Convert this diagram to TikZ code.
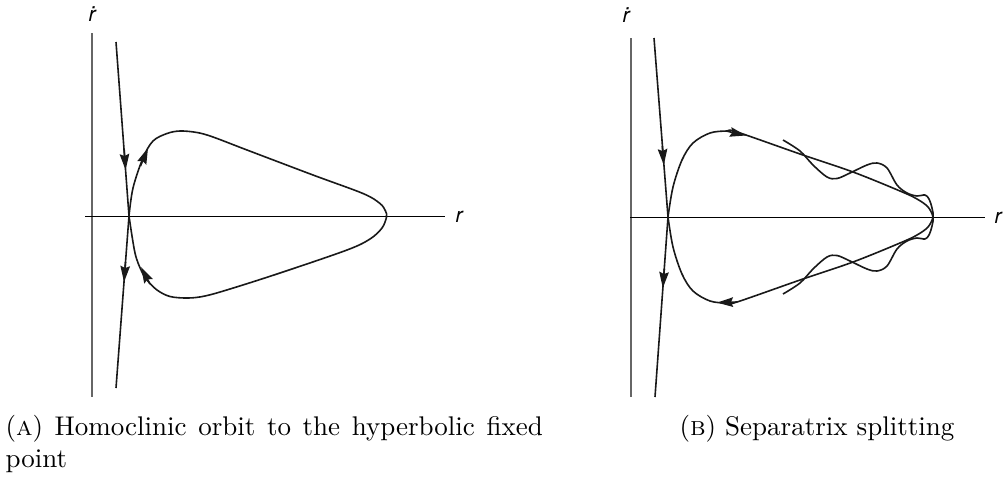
\documentclass[tikz,border=0pt]{standalone}
\usepackage{fontspec}
\newfontfamily\labfont{TeX Gyre Heros}
\usetikzlibrary{arrows.meta}
\begin{document}
\begin{tikzpicture}[x=1pt,y=-1pt,
  curve/.style={line width=1.6pt, black!90, line join=round},
  haxis/.style={line width=1pt, black},
  vaxis/.style={line width=1.4pt, black!60},
  arr/.style={line width=1.6pt, black!90, -{Stealth[length=16pt,width=9.5pt,inset=2pt]}},
  lab/.style={font=\labfont\itshape\fontsize{21}{21}\selectfont, inner sep=0pt},
  captext/.style={scale=2.7, inner sep=0pt, anchor=base west}]
\useasboundingbox (0,0) rectangle (1006,480);
% ---------- Panel A ----------
\draw[vaxis] (92,33) -- (92,397);
\draw[haxis] (85,216) -- (445,216);
\node[lab] (rdA) at (92,14) {ṙ};
\node[lab] (rA) at (459,217) {r};
\draw[curve] (116,42) -- (129,216) -- (116,388);
\draw[curve] plot[smooth, tension=0.55] coordinates {
  (129,216) (133,188) (143,158) (153,141) (167,133.5) (180,131) (197,132.5)
  (213,137) (247,150) (313,175) (363,193.5) (380,203.5) (385.5,211) (386.5,217)
  (382,228) (370,239) (347,250) (280,273) (230,289) (205,296) (188,298) (170,296.5)
  (157,290) (147,280) (141.5,271) (135,253) (129,216)};
\draw[arr] (124.2,150) -- (125.6,170);
\draw[arr] (125.5,262) -- (124,282);
\draw[arr] (140.5,166) -- (148,148);
\draw[arr] (150,284) -- (141,267);
% ---------- Panel B ----------
\draw[vaxis] (631,38) -- (631,397);
\draw[haxis] (630,217) -- (985,217);
\node[lab] (rdB) at (626,15) {ṙ};
\node[lab] (rB) at (998,218) {r};
\draw[curve] (654,38) -- (668,217) -- (655,397);
% unstable branch: smooth on top, wiggly below
\draw[curve] plot[smooth, tension=0.55] coordinates {
  (668,217) (673,187) (682,160) (693,143) (710,133) (727,131) (737,132)
  (800,154) (853,172) (900,191) (917,199) (928,207) (933,217)
  (932,226) (929,235) (925,239) (917,238) (907,241) (897,249) (887,266)
  (877,271) (867,269) (850,261) (837,255.5) (827,257) (813,269) (800,283) (783,294)};
% stable branch: wiggly on top, smooth below
\draw[curve] plot[smooth, tension=0.55] coordinates {
  (783,140) (800,151) (813,165) (827,177) (837,178.5) (850,173) (867,165)
  (877,163) (887,168) (897,185) (907,193) (917,196) (925,195) (929,199)
  (932,208) (933,217)
  (928,227) (917,235) (900,243) (853,262) (800,280) (737,302) (727,303)
  (710,301) (693,291) (682,274) (673,247) (668,217)};
\draw[arr] (662.3,146) -- (663.8,165);
\draw[arr] (664.3,269) -- (662.8,288);
\draw[arr] (727,131.2) -- (746,135.5);
\draw[arr] (737,302) -- (717,302.6);
% ---------- Captions ----------
\node[captext] (capA1) at (5,435) {\makebox[199pt][s]{(\textsc{a}) Homoclinic orbit to the hyperbolic fixed}};
\node[captext] (capA2) at (5,467) {point};
\node[captext] (capB) at (679,435) {(\textsc{b}) Separatrix splitting};
\end{tikzpicture}
\end{document}
